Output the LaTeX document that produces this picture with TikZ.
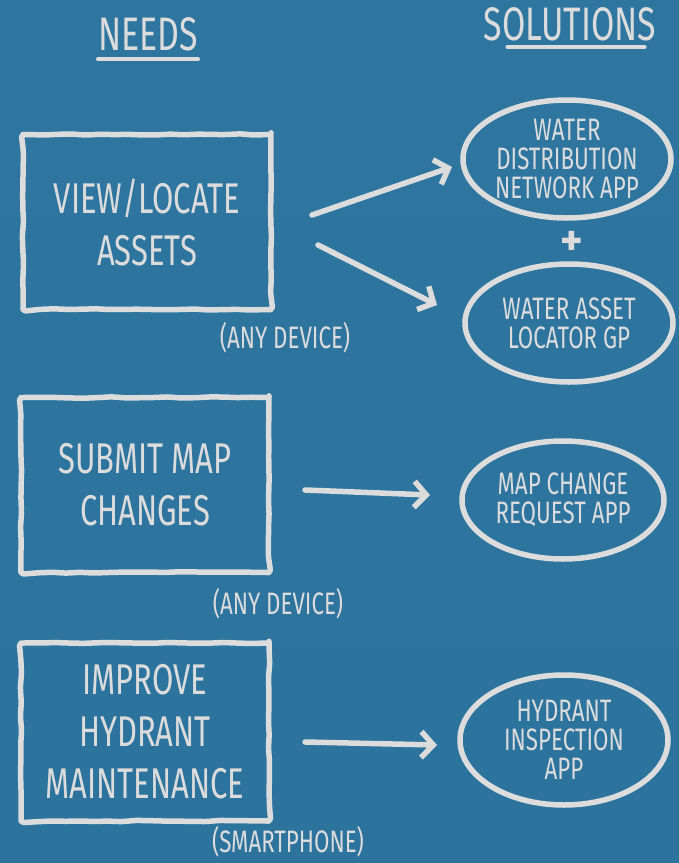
\documentclass[tikz,border=0pt]{standalone}
\usepackage{fontspec}
\setmainfont[FakeStretch=0.72]{Fira Sans}
\usetikzlibrary{arrows.meta,shapes.geometric,decorations.pathmorphing}
\definecolor{chalk}{HTML}{DCDCDC}
\definecolor{boardtop}{HTML}{2E76A0}
\definecolor{boardmid}{HTML}{3E8DBB}
\definecolor{boardbot}{HTML}{2C739E}

\begin{document}
\begin{tikzpicture}[x=1pt,y=-1pt,
	  every node/.append style={text=chalk,align=center},
	  chalkline/.style={draw=chalk,line width=5.5pt,line cap=round,line join=round},
	  wobbly/.style={decorate,decoration={random steps,segment length=14pt,amplitude=0.7pt},rounded corners=3pt},
	  need/.style={chalkline,wobbly,rectangle,minimum width=248pt,minimum height=175pt,font=\fontsize{43}{52}\selectfont},
	  sol/.style={chalkline,ellipse,minimum width=208pt,minimum height=118pt,inner xsep=-14pt,inner ysep=-16pt,font=\fontsize{31}{29}\selectfont},
	  device/.style={font=\fontsize{31}{31}\selectfont},
	  title/.style={font=\fontsize{47}{47}\selectfont,inner sep=0pt},
	  chalkarrow/.style={chalkline,-{Straight Barb[length=12pt,width=26pt,line width=5.5pt]}}]
	  \shade[top color=boardtop,middle color=boardmid,bottom color=boardbot] (0,0) rectangle (679,863);
	  \useasboundingbox (0,0) rectangle (679,863);
	  \node (needs) [title] at (148,34) {NEEDS};
	  \node (solutions) [title] at (570,24) {SOLUTIONS};
	  \draw[chalkline,line width=4pt] ([yshift=-8pt]needs.south west) -- ([yshift=-8pt]needs.south east);
	  \draw[chalkline,line width=4pt] ([xshift=24pt,yshift=-6pt]solutions.south west) -- ([xshift=-12pt,yshift=-6pt]solutions.south east);
	  \node (need_1) [need] at (147,222) {VIEW/LOCATE\\ASSETS};
	  \node (need_2) [need] at (145,485) {SUBMIT MAP\\CHANGES};
	  \node (need_3) [need,minimum height=178pt] at (145,732) {IMPROVE\\HYDRANT\\MAINTENANCE};
	  \node (dev_1) [device] at (285,338) {(ANY DEVICE)};
	  \node (dev_2) [device] at (278,604) {(ANY DEVICE)};
	  \node (dev_3) [device] at (288,842) {(SMARTPHONE)};
	  \node (sol_1) [sol] at (567,159) {WATER\\DISTRIBUTION\\NETWORK APP};
	  \node (plus) [font=\fontsize{44}{44}\bfseries,inner sep=0pt,xscale=1.35] at (572,243) {+};
	  \node (sol_2) [sol] at (569,323) {WATER ASSET\\LOCATOR GP};
	  \node (sol_3) [sol,minimum width=202pt] at (563,500) {MAP CHANGE\\REQUEST APP};
	  \node (sol_4) [sol,minimum height=130pt] at (564,740) {HYDRANT\\INSPECTION\\APP};
	  \coordinate (arr_1s) at (312,215);
	  \coordinate (arr_1e) at (452,167);
	  \coordinate (arr_2s) at (318,245);
	  \coordinate (arr_2e) at (437,305);
	  \coordinate (arr_3s) at (305,490);
	  \coordinate (arr_3e) at (430,495);
	  \coordinate (arr_4s) at (305,742);
	  \coordinate (arr_4e) at (437,745);
	  \draw[chalkarrow] (arr_1s) -- (arr_1e);
	  \draw[chalkarrow] (arr_2s) -- (arr_2e);
	  \draw[chalkarrow] (arr_3s) -- (arr_3e);
	  \draw[chalkarrow] (arr_4s) -- (arr_4e);
	\end{tikzpicture}
\end{document}
